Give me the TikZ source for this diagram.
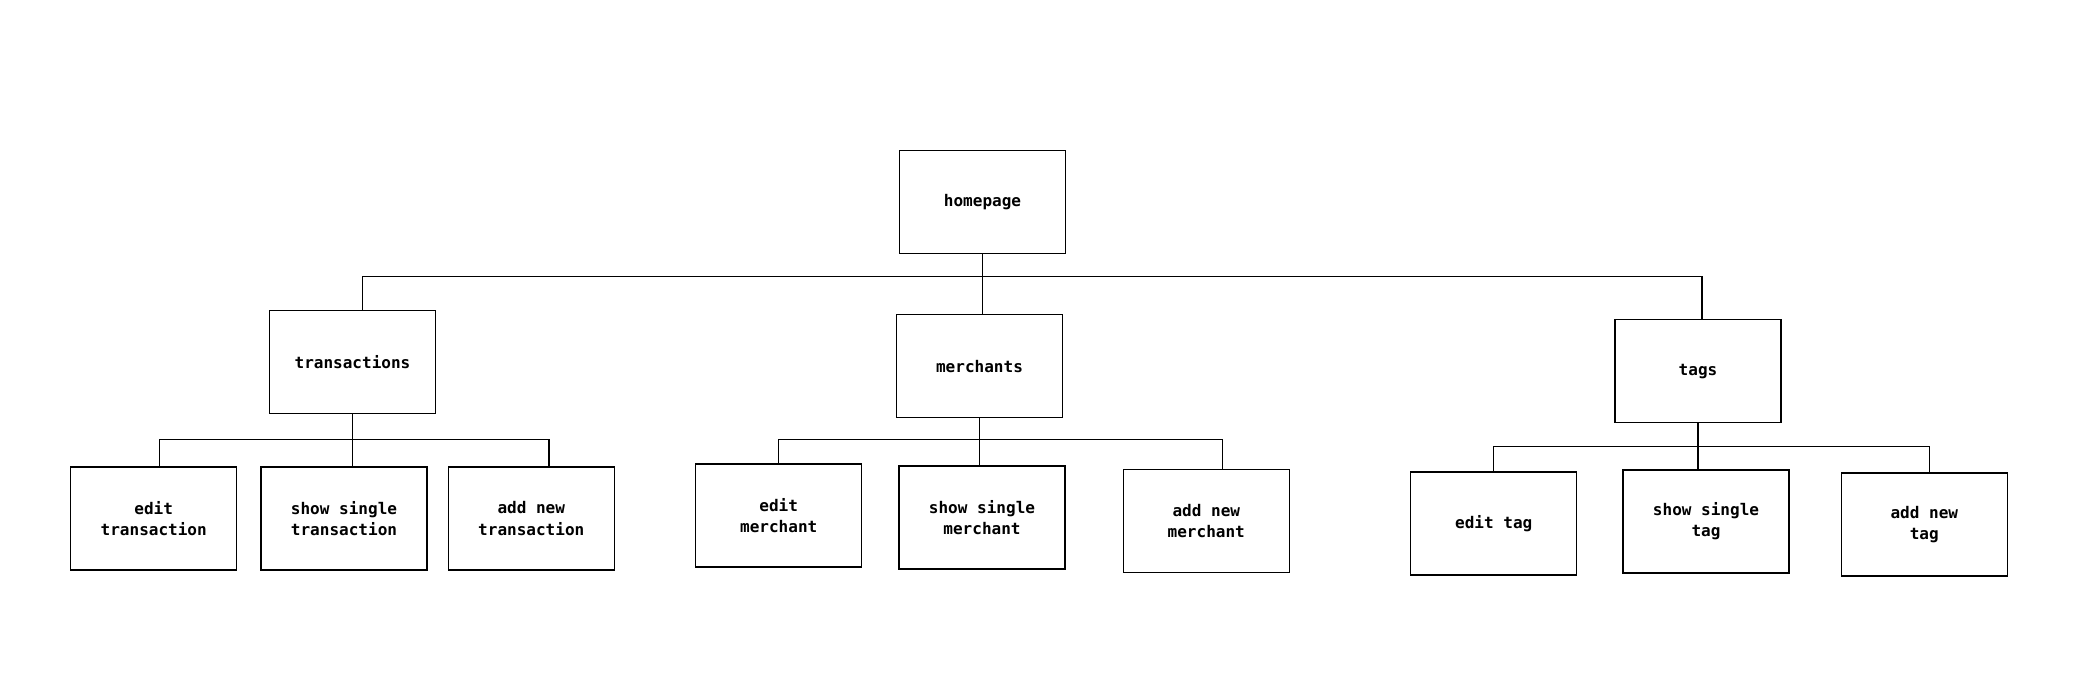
\documentclass[tikz,border=0pt]{standalone}
\usepackage{fontspec}
\setmonofont{DejaVu Sans Mono}
\usepackage{xcolor}
\usepackage{tikz}
\usetikzlibrary{positioning, calc}
\definecolor{pagefill}{RGB}{255,255,255}
\tikzset{
    pagebox/.style={
        rectangle,
        draw=black,
        line width=0.9pt,
        fill=pagefill,
        align=center,
        minimum width=4.15cm,
        minimum height=2.575cm,
        font=\ttfamily\bfseries\fontsize{11.4}{15}\selectfont
    },
    link/.style={
        draw=black,
        line width=0.9pt
    }
}
\begin{document}
\begin{tikzpicture}[node distance=1.5cm]
\useasboundingbox[fill=white] (0,0) rectangle (51.85,-17.15);
% Top level
\node[pagebox] (home) at (24.5625,-5.05) {homepage};
\node[pagebox, below=1.4cm of home, xshift=-15.75cm] (trans) {transactions};
\node[pagebox, below=1.5cm of home, xshift=-0.075cm] (merch) {merchants};
\node[pagebox, below=1.625cm of home, xshift=17.8875cm] (tags) {tags};
% Transactions
\node[pagebox, below=1.3cm of trans, xshift=-0.2125cm] (tshow) {show single\\transaction};
\node[pagebox, left=0.575cm of tshow] (tedit) {edit\\transaction};
\node[pagebox, right=0.5cm of tshow] (tadd) {add new\\transaction};
% Merchants
\node[pagebox, below=1.175cm of merch, xshift=0.0625cm] (mshow) {show single\\merchant};
\node[pagebox, left=0.9cm of mshow, yshift=0.05cm] (medit) {edit\\merchant};
\node[pagebox, right=1.425cm of mshow, yshift=-0.0875cm] (madd) {add new\\merchant};
% Tags
\node[pagebox, below=1.15cm of tags, xshift=0.2cm] (gshow) {show single\\tag};
\node[pagebox, left=1.125cm of gshow, yshift=-0.05cm] (gedit) {edit tag};
\node[pagebox, right=1.275cm of gshow, yshift=-0.075cm] (gadd) {add new\\tag};

% Connectors
\coordinate (hj) at ($(home.south)!0.37!(merch.north)$);
\draw[link] (home.south) -- (home.south |- merch.north);
\draw[link] (hj) -| ([xshift=0.25cm]trans.north);
\draw[link] (hj) -| ([xshift=0.1cm]tags.north);

\coordinate (tj) at ($(trans.south)!0.48!(tshow.north)$);
\draw[link] (trans.south) -- (trans.south |- tshow.north);
\draw[link] (tj) -| ([xshift=0.15cm]tedit.north);
\draw[link] (tj) -| ([xshift=0.44cm]tadd.north);

\coordinate (mj) at ($(merch.south)!0.45!(mshow.north)$);
\draw[link] (merch.south) -- (merch.south |- mshow.north);
\draw[link] (mj) -| (medit.north);
\draw[link] (mj) -| ([xshift=0.4cm]madd.north);

\coordinate (gj) at ($(tags.south)!0.5!(gshow.north)$);
\draw[link] (tags.south) -- (tags.south |- gshow.north);
\draw[link] (gj) -| (gedit.north);
\draw[link] (gj) -| ([xshift=0.125cm]gadd.north);
\end{tikzpicture}
\end{document}
